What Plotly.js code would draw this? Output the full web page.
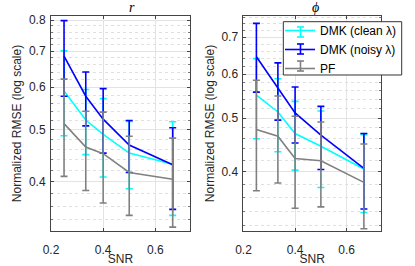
<!DOCTYPE html>
<html><head><meta charset="utf-8">
<script src="https://cdn.plot.ly/plotly-3.0.1.min.js"></script>
<style>html,body{margin:0;padding:0;background:#fff;}#chart{width:415px;height:266px;}</style>
</head><body><div id="chart"></div>
<script>
// SNR values (x)
const snr = [0.25, 1/3, 0.4, 0.5, 2/3];
const seriesNames = ['DMK (clean λ)', 'DMK (noisy λ)', 'PF'];

// Panel r: mean, upper bound, lower bound
const rClean     = [0.590, 0.521, 0.490, 0.452, 0.431];
const rCleanHi   = [0.701, 0.594, 0.571, 0.518, 0.517];
const rCleanLo   = [0.487, 0.449, 0.408, 0.388, 0.346];
const rNoisy     = [0.685, 0.577, 0.523, 0.468, 0.430];
const rNoisyHi   = [0.798, 0.640, 0.596, 0.520, 0.504];
const rNoisyLo   = [0.577, 0.508, 0.452, 0.416, 0.355];
const rPF        = [0.513, 0.464, 0.451, 0.416, 0.404];
const rPFHi      = [0.621, 0.541, 0.539, 0.486, 0.482];
const rPFLo      = [0.409, 0.385, 0.365, 0.346, 0.329];

// Panel phi
const pClean     = [0.550, 0.513, 0.469, 0.445, 0.405];
const pCleanHi   = [0.640, 0.589, 0.536, 0.515, 0.467];
const pCleanLo   = [0.459, 0.435, 0.403, 0.375, 0.338];
const pNoisy     = [0.645, 0.567, 0.511, 0.466, 0.406];
const pNoisyHi   = [0.741, 0.629, 0.569, 0.525, 0.469];
const pNoisyLo   = [0.557, 0.496, 0.451, 0.404, 0.343];
const pPF        = [0.477, 0.464, 0.423, 0.419, 0.383];
const pPFHi      = [0.585, 0.548, 0.504, 0.492, 0.449];
const pPFLo      = [0.370, 0.382, 0.344, 0.346, 0.316];

const yTicksR = [0.4, 0.5, 0.6, 0.7, 0.8];
const yTicksP = [0.4, 0.5, 0.6, 0.7];
const xTicks = [0.2, 0.4, 0.6];
const minorVals = [0.30,0.32,0.34,0.36,0.38,0.42,0.44,0.46,0.48,0.52,0.54,0.56,0.58,0.62,0.64,0.66,0.68,0.72,0.74,0.76,0.78,0.82];

const colors = ['#00FFFF', '#0000FF', '#808080'];

function mk(y, hi, lo, i, xa, ya, showleg) {
  return {
    x: snr, y: y, type: 'scatter', mode: 'lines',
    name: seriesNames[i], showlegend: showleg, legendgroup: 'g' + i,
    xaxis: xa, yaxis: ya,
    line: {color: colors[i], width: 1.6},
    error_y: {type: 'data', symmetric: false,
      array: hi.map((v, k) => v - y[k]),
      arrayminus: y.map((v, k) => v - lo[k]),
      color: colors[i], thickness: 1.6, width: 3.5}
  };
}

const data = [
  mk(rClean, rCleanHi, rCleanLo, 0, 'x', 'y', false),
  mk(rNoisy, rNoisyHi, rNoisyLo, 1, 'x', 'y', false),
  mk(rPF, rPFHi, rPFLo, 2, 'x', 'y', false),
  mk(pClean, pCleanHi, pCleanLo, 0, 'x2', 'y2', true),
  mk(pNoisy, pNoisyHi, pNoisyLo, 1, 'x2', 'y2', true),
  mk(pPF, pPFHi, pPFLo, 2, 'x2', 'y2', true)
];

const font = {family: 'Liberation Sans, Arial, sans-serif', size: 12, color: '#262626'};
function xax(dom, anchor) {
  return {domain: dom, anchor: anchor, range: [0.2, 0.733], tickvals: xTicks,
    ticktext: xTicks.map(v => v.toFixed(1)), ticks: 'inside', ticklen: 3,
    tickcolor: '#444', showline: true, mirror: 'ticks', linecolor: '#444', linewidth: 1,
    showgrid: true, gridcolor: '#e3e3e3', gridwidth: 1, zeroline: false,
    tickfont: font, ticklabelstandoff: 8,
    title: {text: 'SNR', font: font, standoff: 0}};
}
function yax(rng, ticks, anchor) {
  return {type: 'log', anchor: anchor, domain: [0, 1],
    range: [Math.log10(rng[0]), Math.log10(rng[1])],
    tickvals: ticks, ticktext: ticks.map(v => v.toFixed(1)),
    ticks: 'inside', ticklen: 3, tickcolor: '#444',
    showline: true, mirror: 'ticks', linecolor: '#444', linewidth: 1,
    showgrid: true, gridcolor: '#e3e3e3', gridwidth: 1, zeroline: false,
    minor: {tickmode: 'array', tickvals: minorVals, ticks: 'inside', ticklen: 2,
      tickcolor: '#777', showgrid: true, gridcolor: '#e0e0e0', griddash: 'dot', gridwidth: 1},
    tickfont: font, ticklabelstandoff: 2,
    title: {text: 'Normalized RMSE (log scale)', font: font, standoff: 4}};
}

// legend frame and error-bar icons (paper coordinates)
const legX0 = 0.704, legX1 = 1.0627, legY0 = 0.7256, legY1 = 0.9735;
const iconX = 0.756, iconHalfW = 0.0106, iconHalfH = 0.0233;
const rowY = [0.9256, 0.8465, 0.7674];
const shapes = [{type: 'rect', xref: 'paper', yref: 'paper', x0: legX0, x1: legX1, y0: legY0, y1: legY1,
  fillcolor: '#fff', line: {color: '#333', width: 1}, layer: 'above'}];
rowY.forEach((ry, i) => {
  const ln = {color: colors[i], width: 1.6};
  shapes.push({type: 'line', xref: 'paper', yref: 'paper', x0: iconX, x1: iconX, y0: ry - iconHalfH, y1: ry + iconHalfH, line: ln, layer: 'above'});
  shapes.push({type: 'line', xref: 'paper', yref: 'paper', x0: iconX - iconHalfW, x1: iconX + iconHalfW, y0: ry - iconHalfH, y1: ry - iconHalfH, line: ln, layer: 'above'});
  shapes.push({type: 'line', xref: 'paper', yref: 'paper', x0: iconX - iconHalfW, x1: iconX + iconHalfW, y0: ry + iconHalfH, y1: ry + iconHalfH, line: ln, layer: 'above'});
});

const layout = {
  width: 415, height: 266,
  margin: {l: 51, r: 34, t: 16, b: 35},
  paper_bgcolor: '#fff', plot_bgcolor: '#fff',
  font: font,
  xaxis: xax([0, 0.4212], 'y'),
  yaxis: yax([0.3236, 0.814], yTicksR, 'x'),
  xaxis2: xax([0.5833, 1], 'y2'),
  yaxis2: yax([0.313, 0.764], yTicksP, 'x2'),
  showlegend: true,
  legend: {x: 0.694, y: 1.0, xanchor: 'left', yanchor: 'top',
    bgcolor: 'rgba(0,0,0,0)', borderwidth: 0,
    font: {family: 'Liberation Sans, Arial, sans-serif', size: 12, color: '#000'},
    itemwidth: 30, tracegroupgap: 0},
  shapes: shapes,
  annotations: [
    {text: '<i>r</i>', xref: 'paper', yref: 'paper', x: 0.23, y: 1, yanchor: 'bottom', yshift: -1,
      showarrow: false, font: {family: 'Liberation Serif, serif', size: 14, color: '#000'}},
    {text: '<i>ϕ</i>', xref: 'paper', yref: 'paper', x: 0.817, y: 1, yanchor: 'bottom', yshift: -1,
      showarrow: false, font: {family: 'Liberation Serif, serif', size: 14, color: '#000'}}
  ]
};

Plotly.newPlot('chart', data, layout, {displayModeBar: false, staticPlot: true});
</script></body></html>
